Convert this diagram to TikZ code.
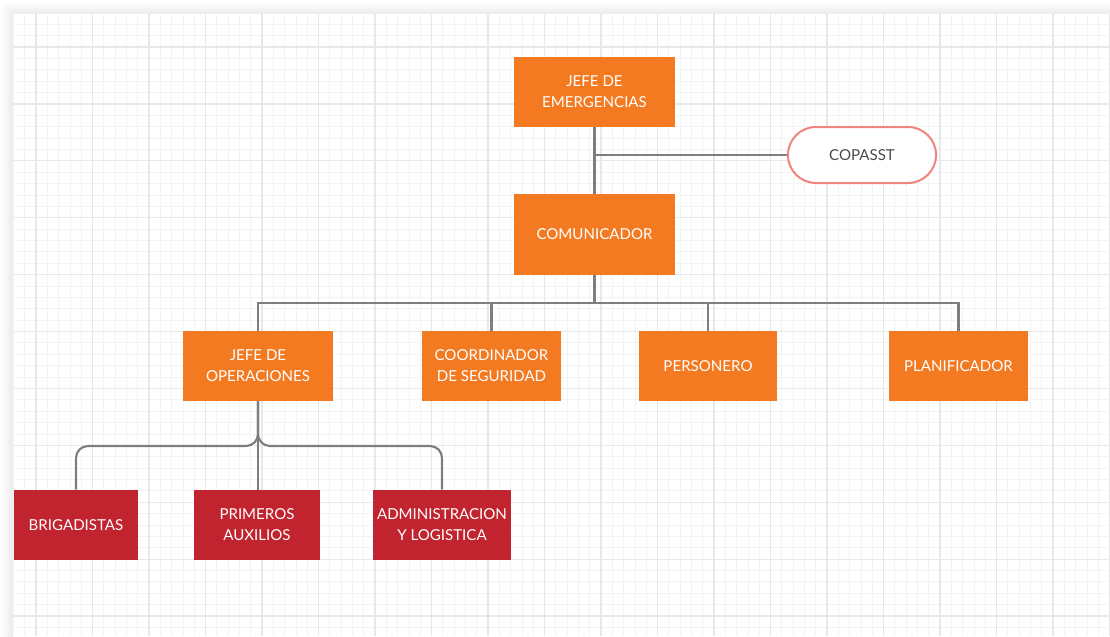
\documentclass[tikz,border=0pt]{standalone}
\usepackage{fontspec}
\setmainfont{Lato}
\usetikzlibrary{shapes.misc}
\definecolor{orgbox}{HTML}{F47A22}
\definecolor{redbox}{HTML}{C1232F}
\definecolor{wire}{HTML}{7E7E7E}
\definecolor{pill}{HTML}{F0857F}
\definecolor{gminor}{HTML}{F3F3F3}
\definecolor{gmajor}{HTML}{E8E8E8}
\tikzset{
  box/.style={rectangle, fill=orgbox, text=white, align=center,
    font=\fontsize{11.3}{15.8}\selectfont, inner sep=0pt},
  rbox/.style={box, fill=redbox},
  wireline/.style={draw=wire, line width=1.6pt},
  minorline/.style={draw=gminor, line width=0.6pt},
  majorline/.style={draw=gmajor, line width=0.9pt},
}
\begin{document}
\begin{tikzpicture}[x=0.75pt,y=-0.75pt]
\useasboundingbox (0,0) rectangle (1110,636);
\fill[white] (0,0) rectangle (1110,636);
% shadow around canvas
\foreach \k in {0,...,6}{
  \fill[black,opacity=0.012] ({13-1.8*\k},{14-1.8*\k}) rectangle (1120,650);
}
\fill[white] (13,14) rectangle (1120,650);
% grid
\begin{scope}
\clip (13,14) rectangle (1110,636);
\foreach \i in {-2,...,95}{
  \draw[minorline] ({36+\i*11.3},14) -- ({36+\i*11.3},636);
}
\foreach \i in {-3,...,53}{
  \draw[minorline] (13,{47+\i*11.38}) -- (1110,{47+\i*11.38});
}
\foreach \i in {-1,...,19}{
  \draw[majorline] ({36+\i*56.5},14) -- ({36+\i*56.5},636);
}
\foreach \i in {-1,...,11}{
  \draw[majorline] (13,{47+\i*56.9}) -- (1110,{47+\i*56.9});
}
\end{scope}

% nodes
\node[box, minimum width=161*0.75pt, minimum height=70*0.75pt] (jefe) at (594.5,92) {JEFE DE\\EMERGENCIAS};
\node[rounded rectangle, draw=pill, fill=white, line width=1.5pt, text=black!70,
  font=\fontsize{11.3}{15.8}\selectfont, minimum width=157*0.75pt, minimum height=56*0.75pt] (cop) at (862,155) {COPASST};
\node[box, minimum width=161*0.75pt, minimum height=81*0.75pt] (com) at (594.5,234.5) {COMUNICADOR};

\node[box, minimum width=150*0.75pt, minimum height=70*0.75pt] (ops) at (258,366) {JEFE DE\\OPERACIONES};
\node[box, minimum width=139*0.75pt, minimum height=70*0.75pt] (coord) at (491.5,366) {COORDINADOR\\DE SEGURIDAD};
\node[box, minimum width=138*0.75pt, minimum height=70*0.75pt] (pers) at (708,366) {PERSONERO};
\node[box, minimum width=139*0.75pt, minimum height=70*0.75pt] (plan) at (958.5,366) {PLANIFICADOR};

\node[rbox, minimum width=124*0.75pt, minimum height=70*0.75pt] (brig) at (76,525) {BRIGADISTAS};
\node[rbox, minimum width=126*0.75pt, minimum height=70*0.75pt] (prim) at (257,525) {PRIMEROS\\AUXILIOS};
\node[rbox, minimum width=138*0.75pt, minimum height=70*0.75pt] (admin) at (442,525) {ADMINISTRACION\\Y LOGISTICA};

% connectors
\coordinate (j1) at (594.5,155);
\draw[wireline] (jefe.south) -- (com.north);
\draw[wireline] (j1) -- (cop.west);

\coordinate (bus) at (594.5,303);
\draw[wireline] (com.south) -- (bus);
\draw[wireline] (bus) -| (ops.north);
\draw[wireline] (bus) -| (coord.north);
\draw[wireline] (bus) -| (pers.north);
\draw[wireline] (bus) -| (plan.north);

\coordinate (bus2) at (258,446);
\draw[wireline, rounded corners=9pt] (ops.south) -- (bus2) -| (brig.north);
\draw[wireline, rounded corners=9pt] (ops.south) -- (bus2) -| (admin.north);
\draw[wireline] (ops.south) -- (ops.south |- prim.north);
\end{tikzpicture}
\end{document}
